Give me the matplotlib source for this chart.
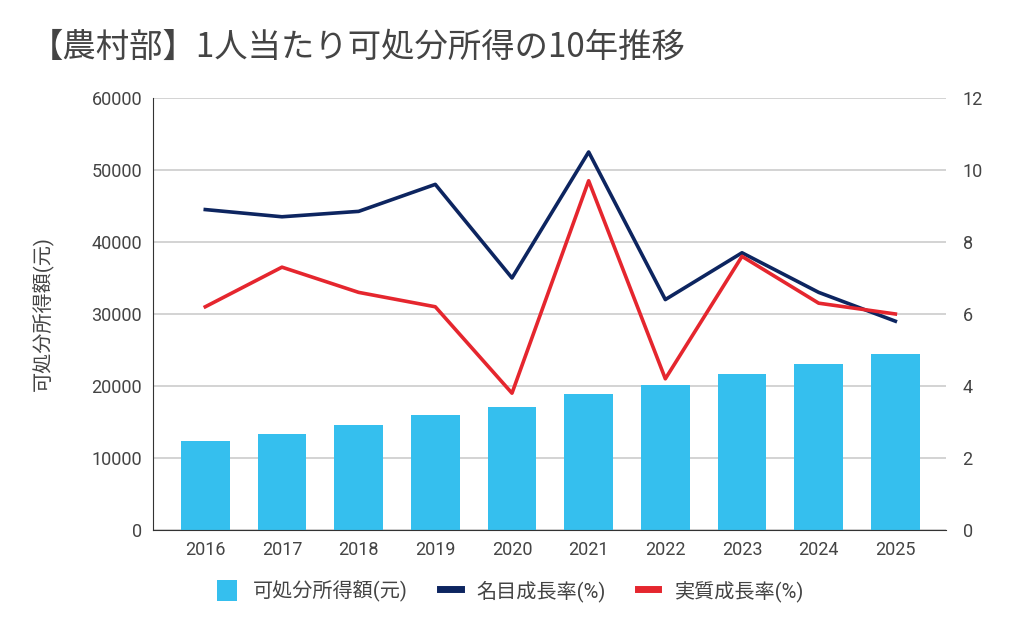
import matplotlib
matplotlib.use("Agg")
import matplotlib.pyplot as plt
from matplotlib.patches import Patch
from matplotlib.lines import Line2D

plt.rcParams['font.family'] = ['Roboto', 'Noto Sans CJK JP', 'DejaVu Sans']

# data
years = ["2016", "2017", "2018", "2019", "2020", "2021", "2022", "2023", "2024", "2025"]
income = [12300, 13400, 14600, 16000, 17100, 18900, 20100, 21600, 23000, 24400]
nominal_growth = [8.9, 8.7, 8.85, 9.6, 7.0, 10.5, 6.4, 7.7, 6.6, 5.8]
real_growth = [6.2, 7.3, 6.6, 6.2, 3.8, 9.7, 4.2, 7.6, 6.3, 6.0]

bar_color = "#35BFEE"
navy = "#0D2560"
red = "#E5262E"
text_color = "#444444"

fig = plt.figure(figsize=(10.21, 6.32), dpi=100)
ax = fig.add_axes([0.150, 0.1614, 0.7765, 0.6836])
x = list(range(len(years)))

ax.bar(x, income, width=0.635, color=bar_color, zorder=2)
ax.set_ylim(0, 60000)
ax.set_yticks(range(0, 60001, 10000))
ax.set_xlim(-0.68, 9.66)
ax.set_xticks(x)
ax.set_xticklabels(years)
ax.grid(axis="y", color="#CCCCCC", linewidth=1.2, zorder=0)
ax.set_axisbelow(True)
for s in ["top", "right"]:
    ax.spines[s].set_visible(False)
ax.spines["left"].set_color("#333333")
ax.spines["bottom"].set_color("#333333")
ax.tick_params(length=0, labelsize=13, colors=text_color, pad=8)
ax.set_ylabel("可処分所得額(元)", fontsize=14.5, color=text_color, labelpad=27)

ax2 = ax.twinx()
ax2.plot(x, nominal_growth, color=navy, linewidth=2.6, zorder=3)
ax2.plot(x, real_growth, color=red, linewidth=2.6, zorder=3)
ax2.set_ylim(0, 12)
ax2.set_yticks(range(0, 13, 2))
for s in ["top", "right", "left", "bottom"]:
    ax2.spines[s].set_visible(False)
ax2.tick_params(length=0, labelsize=13, colors=text_color, pad=12)

fig.text(0.029, 0.925, "【農村部】1人当たり可処分所得の10年推移", fontsize=24,
         color=text_color, ha="left", va="center",
         family=['Noto Sans CJK JP', 'DejaVu Sans'])

handles = [
    Patch(facecolor=bar_color, edgecolor="none"),
    Line2D([0], [0], color=navy, linewidth=5),
    Line2D([0], [0], color=red, linewidth=5),
]
labels = ["可処分所得額(元)", "名目成長率(%)", "実質成長率(%)"]
fig.legend(handles, labels, loc="center", bbox_to_anchor=(0.5, 0.065), ncol=3,
           frameon=False, fontsize=14.5, handlelength=1.0, handleheight=1.2,
           columnspacing=1.6, handletextpad=0.8, labelcolor=text_color)

fig.savefig("out.png", dpi=100)
